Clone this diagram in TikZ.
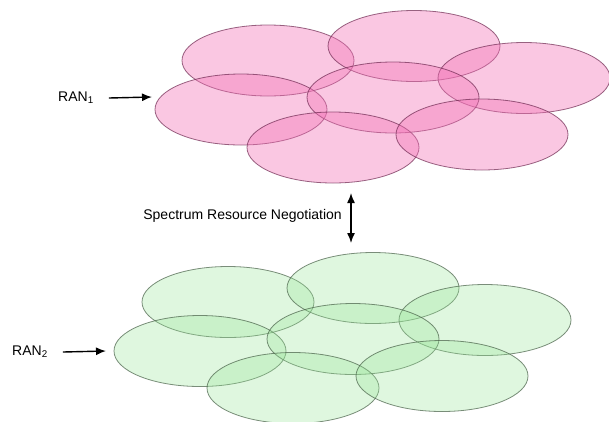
\documentclass[tikz,border=0pt]{standalone}
\usepackage{fontspec}
\setmainfont{Liberation Sans}
\usepackage{xcolor}
\usetikzlibrary{arrows.meta,positioning,shapes.geometric}
\definecolor{ranpink}{RGB}{242,115,182}
\definecolor{ranpinkline}{RGB}{110,40,80}
\definecolor{rangreen}{RGB}{150,228,150}
\definecolor{rangreenline}{RGB}{70,95,70}

\begin{document}
\begin{tikzpicture}[
  x=1pt,y=-1pt,
  cell/.style={ellipse,minimum width=172pt,minimum height=71pt,inner sep=0pt,line width=0.8pt},
  pinkcell/.style={cell,fill=ranpink,fill opacity=0.4,draw=ranpinkline,draw opacity=0.7},
  greencell/.style={cell,fill=rangreen,fill opacity=0.3,draw=rangreenline,draw opacity=0.7},
  lbl/.style={font=\fontsize{14}{16}\selectfont,inner sep=1pt},
  arrow/.style={-{Latex[length=10pt,width=8pt]},line width=1.4pt}
]
\useasboundingbox (0,0) rectangle (609,421);

% RAN 1 cells
\foreach \name/\cx/\cy in {a/268/60.5, b/414/46, c/524/78, d/241/109.5, e/393/97.5, f/333/147.5, g/482/134.5}
  \node[pinkcell] (top\name) at (\cx,\cy) {};

% RAN 2 cells
\foreach \name/\cx/\cy in {a/228/302, b/373/288, c/485/320, d/200/351, e/353/339, f/293/388, g/442/376}
  \node[greencell] (bot\name) at (\cx,\cy) {};

% labels and arrows
\node[lbl] (ran1) at (76,98) {RAN\textsubscript{1}};
\coordinate (in1) at (152,97);
\draw[arrow] ([xshift=14pt]ran1.east) -- (in1);

\node[lbl] (ran2) at (30,352) {RAN\textsubscript{2}};
\coordinate (in2) at (106,351);
\draw[arrow] ([xshift=14pt]ran2.east) -- (in2);

\coordinate (up) at (351,193);
\coordinate (dn) at (351,243);
\draw[arrow,{Latex[length=10pt,width=8pt]}-{Latex[length=10pt,width=8pt]}] (up) -- (dn);
\node[lbl,anchor=east] (nego) at (343,216) {Spectrum Resource Negotiation};
\end{tikzpicture}
\end{document}
